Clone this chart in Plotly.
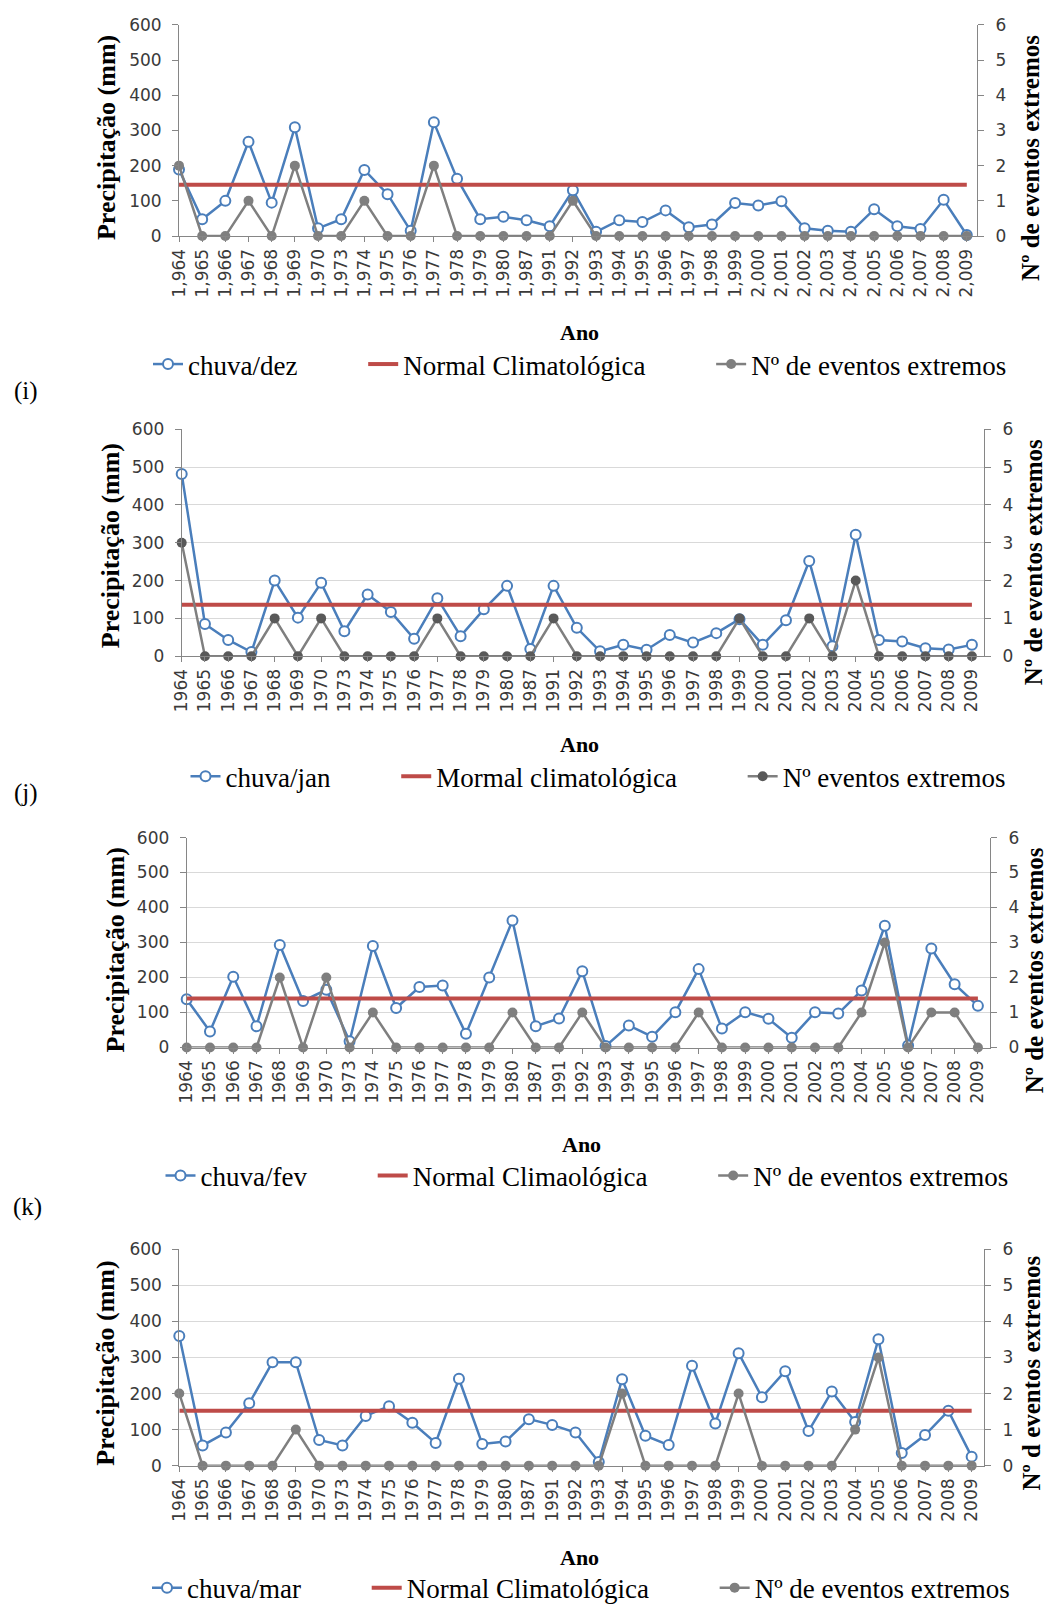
import plotly.graph_objects as go

W, H = 1047, 1613

YEARS = ["1964", "1965", "1966", "1967", "1968", "1969", "1970", "1973", "1974", "1975",
         "1976", "1977", "1978", "1979", "1980", "1987", "1991", "1992", "1993", "1994",
         "1995", "1996", "1997", "1998", "1999", "2000", "2001", "2002", "2003", "2004",
         "2005", "2006", "2007", "2008", "2009"]
YEARS_COMMA = ["1,964", "1,965", "1,966", "1,967", "1,968", "1,969", "1,970", "1,973", "1,974", "1,975",
               "1,976", "1,977", "1,978", "1,979", "1,980", "1,987", "1,991", "1,992", "1,993", "1,994",
               "1,995", "1,996", "1,997", "1,998", "1,999", "2,000", "2,001", "2,002", "2,003", "2,004",
               "2,005", "2,006", "2,007", "2,008", "2,009"]

chuva_dez = [189, 48, 100, 268, 95, 309, 22, 48, 188, 119, 15, 323, 163, 48, 55, 45, 28, 130, 12, 45,
             40, 73, 25, 33, 94, 87, 99, 22, 15, 12, 76, 28, 20, 103, 3]
eventos_dez = [2, 0, 0, 1, 0, 2, 0, 0, 1, 0, 0, 2, 0, 0, 0, 0, 0, 1, 0, 0,
               0, 0, 0, 0, 0, 0, 0, 0, 0, 0, 0, 0, 0, 0, 0]
normal_dez = 146

chuva_jan = [482, 85, 43, 11, 200, 102, 194, 66, 163, 117, 46, 153, 53, 124, 186, 19, 186, 75, 13, 30,
             17, 56, 36, 61, 98, 30, 95, 252, 26, 321, 43, 39, 21, 18, 30]
eventos_jan = [3, 0, 0, 0, 1, 0, 1, 0, 0, 0, 0, 1, 0, 0, 0, 0, 1, 0, 0, 0,
               0, 0, 0, 0, 1, 0, 0, 1, 0, 2, 0, 0, 0, 0, 0]
normal_jan = 136

chuva_fev = [138, 46, 202, 61, 293, 133, 165, 18, 290, 113, 173, 177, 39, 200, 363, 61, 83, 218, 4, 63,
             31, 101, 224, 54, 101, 82, 28, 101, 97, 163, 348, 6, 283, 181, 119]
eventos_fev = [0, 0, 0, 0, 2, 0, 2, 0, 1, 0, 0, 0, 0, 0, 1, 0, 0, 1, 0, 0,
               0, 0, 1, 0, 0, 0, 0, 0, 0, 1, 3, 0, 1, 1, 0]
normal_fev = 140

chuva_mar = [360, 56, 92, 173, 287, 287, 71, 56, 138, 165, 119, 63, 241, 60, 67, 129, 113, 92, 10, 240,
             83, 57, 277, 117, 312, 190, 262, 96, 206, 121, 351, 35, 85, 152, 25]
eventos_mar = [2, 0, 0, 0, 0, 1, 0, 0, 0, 0, 0, 0, 0, 0, 0, 0, 0, 0, 0, 2,
               0, 0, 0, 0, 2, 0, 0, 0, 0, 1, 3, 0, 0, 0, 0]
normal_mar = 152

Y_TICKS = [0, 100, 200, 300, 400, 500, 600]
Y2_TICKS = [0, 1, 2, 3, 4, 5, 6]

BLUE = "#4A7EBB"
RED = "#BE4B48"
GREY = "#7F7F7F"
AXIS = "#868686"
TICKFONT = dict(family="DejaVu Sans", size=17, color="#3a3a3a")
SERIF = "Liberation Serif"
PAD = "\u00a0" * 9

# panel geometry (pixels in the page)
panels = [
    dict(cats=YEARS_COMMA, chuva=chuva_dez, ev=eventos_dez, normal=normal_dez,
         names=["chuva/dez", "Normal Climatológica", "Nº de eventos extremos"],
         left=179, right=977, top=25, bottom=237.7, extra=0.44, grid=False, evmarker=GREY,
         ytitle=(106, 139), y2title=(1031, 159), y2text="Nº de eventos extremos",
         ano=(579, 335), leg=(580, 367), label="(i)", labpos=(26, 394)),
    dict(cats=YEARS, chuva=chuva_jan, ev=eventos_jan, normal=normal_jan,
         names=["chuva/jan", "Mormal climatológica", "Nº eventos extremos"],
         left=181.7, right=984, top=432.3, bottom=660.7, extra=0.52, grid=True, evmarker="#595959",
         ytitle=(110, 550), y2title=(1033, 566), y2text="Nº de eventos extremos",
         ano=(579, 750), leg=(598, 782), label="(j)", labpos=(26, 798)),
    dict(cats=YEARS, chuva=chuva_fev, ev=eventos_fev, normal=normal_fev,
         names=["chuva/fev", "Normal Climaológica", "Nº de eventos extremos"],
         left=186.7, right=990, top=843.3, bottom=1054.7, extra=0.52, grid=True, evmarker=GREY,
         ytitle=(115, 957), y2title=(1034, 977), y2text="Nº de eventos extremos",
         ano=(581, 1152), leg=(587, 1184), label="(k)", labpos=(27, 1215)),
    dict(cats=YEARS, chuva=chuva_mar, ev=eventos_mar, normal=normal_mar,
         names=["chuva/mar", "Normal Climatológica", "Nº de eventos extremos"],
         left=179.3, right=984, top=1258, bottom=1475.7, extra=0.53, grid=True, evmarker=GREY,
         ytitle=(106, 1373), y2title=(1032, 1383), y2text="Nº d eventos extremos",
         ano=(579, 1568), leg=(581, 1599), label=None, labpos=None),
]

fig = go.Figure()
layout = dict(width=W, height=H, margin=dict(l=0, r=0, t=0, b=0),
              paper_bgcolor="white", plot_bgcolor="rgba(0,0,0,0)",
              template="none", showlegend=True, annotations=[])


def px(x):
    return x / W


def py(y):
    return 1 - y / H


for i, p in enumerate(panels):
    k = i + 1
    xa = "x" if k == 1 else f"x{k}"
    ya = f"y{2 * k - 1}" if k > 1 else "y"
    yb = f"y{2 * k}"
    leg = "legend" if k == 1 else f"legend{k}"
    xname = "xaxis" if k == 1 else f"xaxis{k}"
    yname = "yaxis" if k == 1 else f"yaxis{2 * k - 1}"
    y2name = f"yaxis{2 * k}"

    fig.add_trace(go.Scatter(
        x=p["cats"], y=p["chuva"], name=p["names"][0] + PAD, xaxis=xa, yaxis=ya, legend=leg,
        mode="lines+markers", line=dict(color=BLUE, width=2.5),
        marker=dict(symbol="circle", size=10, color="white", line=dict(color=BLUE, width=2)),
        cliponaxis=False))
    fig.add_trace(go.Scatter(
        x=p["cats"], y=[p["normal"]] * len(p["cats"]), name=p["names"][1] + PAD, xaxis=xa, yaxis=ya,
        legend=leg, mode="lines", line=dict(color=RED, width=4)))
    fig.add_trace(go.Scatter(
        x=p["cats"], y=p["ev"], name=p["names"][2], xaxis=xa, yaxis=yb, legend=leg,
        mode="lines+markers", line=dict(color=GREY, width=2.5),
        marker=dict(symbol="circle", size=10, color=p["evmarker"]), cliponaxis=False))

    dom_x = [px(p["left"]), px(p["right"])]
    dom_y = [py(p["bottom"]), py(p["top"])]
    layout[xname] = dict(domain=dom_x, anchor=ya, type="category",
                         range=[0, len(p["cats"]) - 1 + p["extra"]],
                         showline=True, linecolor=AXIS, linewidth=1, ticks="outside",
                         ticklen=5, tickcolor=AXIS, tickangle=-90, tickfont=TICKFONT,
                         showgrid=False, zeroline=False, automargin=False, fixedrange=True)
    layout[yname] = dict(domain=dom_y, anchor=xa, range=[0, 600], tickvals=Y_TICKS,
                         showline=True, linecolor=AXIS, linewidth=1, ticks="outside",
                         ticklen=6, tickcolor=AXIS, tickfont=TICKFONT, ticklabelstandoff=7,
                         showgrid=p["grid"], gridcolor="#D9D9D9", gridwidth=1.2,
                         zeroline=False, automargin=False, fixedrange=True)
    layout[y2name] = dict(domain=dom_y, anchor=xa, overlaying=ya, side="right",
                          range=[0, 6], tickvals=Y2_TICKS,
                          showline=True, linecolor=AXIS, linewidth=1, ticks="outside",
                          ticklen=6, tickcolor=AXIS, tickfont=TICKFONT, ticklabelstandoff=8,
                          showgrid=False, zeroline=False, automargin=False, fixedrange=True)
    layout[leg] = dict(orientation="h", x=px(p["leg"][0]), y=py(p["leg"][1]),
                       xanchor="center", yanchor="middle", bgcolor="rgba(0,0,0,0)",
                       font=dict(family=SERIF, size=27, color="black"),
                       itemclick=False, itemdoubleclick=False, tracegroupgap=0)

    ann = layout["annotations"]
    ann.append(dict(text="<b>Precipitação (mm)</b>", x=px(p["ytitle"][0]), y=py(p["ytitle"][1]),
                    xref="paper", yref="paper", textangle=-90, showarrow=False,
                    xanchor="center", yanchor="middle",
                    font=dict(family=SERIF, size=26, color="black")))
    ann.append(dict(text="<b>" + p["y2text"] + "</b>", x=px(p["y2title"][0]), y=py(p["y2title"][1]),
                    xref="paper", yref="paper", textangle=-90, showarrow=False,
                    xanchor="center", yanchor="middle",
                    font=dict(family=SERIF, size=25, color="black")))
    ann.append(dict(text="<b>Ano</b>", x=px(p["ano"][0]), y=py(p["ano"][1]),
                    xref="paper", yref="paper", showarrow=False,
                    xanchor="center", yanchor="middle",
                    font=dict(family=SERIF, size=22, color="black")))
    if p["label"]:
        ann.append(dict(text=p["label"], x=px(p["labpos"][0]), y=py(p["labpos"][1]),
                        xref="paper", yref="paper", showarrow=False,
                        xanchor="center", yanchor="middle",
                        font=dict(family=SERIF, size=25, color="black")))

fig.update_layout(**layout)
fig.write_html("out.html", config={"displayModeBar": False},
               post_script="document.body.style.margin='0';document.body.style.overflow='hidden';")
